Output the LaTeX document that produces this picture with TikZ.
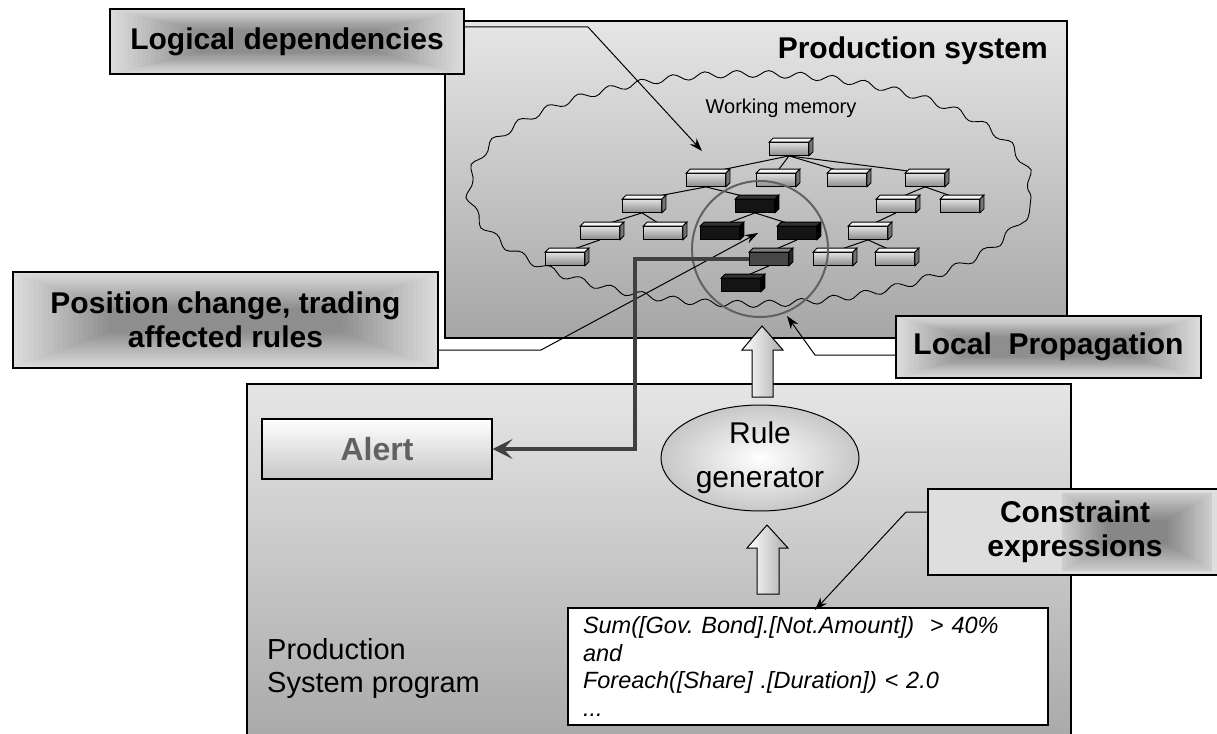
\documentclass[tikz,border=0pt]{standalone}
\usepackage{fontspec}
\setmainfont{Liberation Sans}
\usetikzlibrary{arrows.meta,decorations.pathmorphing,shapes.geometric,calc}
\frenchspacing
\tikzset{
  lbl/.style={draw=black, line width=1.2pt, font=\fontsize{30}{34}\selectfont\bfseries, align=center, inner sep=0pt},
  rgrad/.style n args={2}{path picture={
    \foreach \i in {0,...,19}{
      \pgfmathsetmacro\cc{14+\i*1.6}
      \fill[black!\cc] ($(path picture bounding box.north west)+(\i*#1,\i*#2)$) rectangle ($(path picture bounding box.south east)-(\i*#1,\i*#2)$);
    }}},
  bigbox/.style={draw=black, line width=1.2pt, inner sep=0pt},
  wm/.style={draw=black, line width=0.8pt, minimum width=39pt, minimum height=13pt, inner sep=0pt},
  wml/.style={wm, top color=black!12, bottom color=black!45},
  wmb/.style={wm, fill=black!92},
  wmd/.style={wm, fill=black!72},
  tedge/.style={draw=black, line width=1pt},
  ptr/.style={draw=black, line width=1pt, -{Stealth[length=13pt,width=9pt]}},
  alertline/.style={draw=black!75, line width=3.2pt, -{Stealth[length=20pt,width=20pt,inset=9pt]}},
  blockarrow/.style={draw=black, line width=1pt, left color=white, right color=black!32},
}
\begin{document}
\begin{tikzpicture}[x=1pt,y=-1pt]
\useasboundingbox (0,0) rectangle (1217,733);

% upper production system box
\node[bigbox, top color=black!10, bottom color=black!35, minimum width=622pt, minimum height=317pt] (ps) at (756,179.5) {};
\node[font=\fontsize{30}{34}\selectfont\bfseries, anchor=base east, inner sep=0pt] (pstitle) at (1048,59) {Production system};

% working memory cloud
\node[ellipse, draw=black, line width=0.9pt, decorate, decoration={snake, segment length=32pt, amplitude=3.5pt}, minimum width=562pt, minimum height=230pt] (cloud) at (750,197) {};
\node[font=\fontsize{20}{22}\selectfont, inner sep=0pt] (wmtext) at (781,108) {Working memory};

% tree nodes
\node[wml] (r) at (789,149) {};
\node[wml] (a1) at (706,180) {};
\node[wml] (a2) at (776,180) {};
\node[wml] (a3) at (847,180) {};
\node[wml] (a4) at (925,180) {};
\node[wml] (b1) at (642,206) {};
\node[wmb] (b2) at (755,206) {};
\node[wml] (b3) at (896,206) {};
\node[wml] (b4) at (960,206) {};
\node[wml] (c1) at (600,233) {};
\node[wml] (c2) at (663,233) {};
\node[wmb] (c3) at (720,233) {};
\node[wmb] (c4) at (797,233) {};
\node[wml] (c5) at (868,233) {};
\node[wml] (d1) at (565,259) {};
\node[wmd] (d2) at (769,259) {};
\node[wml] (d3) at (833,259) {};
\node[wml] (d4) at (895,259) {};
\node[wmb] (e1) at (741,285) {};

% tree edges
\foreach \p/\c in {r/a1,r/a2,r/a3,r/a4,a1/b1,a1/b2,b1/c1,b1/c2,c1/d1,b2/c3,b2/c4,c4/d2,d2/e1,a4/b3,a4/b4,b3/c5,c5/d3,c5/d4}
  \draw[tedge] (\p.south) -- (\c.north);

% 3D faces
\foreach \n in {r,a1,a2,a3,a4,b1,b3,b4,c1,c2,c5,d1,d3,d4}{
  \filldraw[fill=black!4, draw=black, line width=0.8pt] (\n.north west) -- ++(4,-4) -- ($(\n.north east)+(4,-4)$) -- (\n.north east) -- cycle;
  \filldraw[fill=black!55, draw=black, line width=0.8pt] (\n.north east) -- ++(4,-4) -- ($(\n.south east)+(4,-4)$) -- (\n.south east) -- cycle;
}
\foreach \n in {b2,c3,c4,e1}{
  \filldraw[fill=black!80, draw=black, line width=0.8pt] (\n.north west) -- ++(4,-4) -- ($(\n.north east)+(4,-4)$) -- (\n.north east) -- cycle;
  \filldraw[fill=black, draw=black, line width=0.8pt] (\n.north east) -- ++(4,-4) -- ($(\n.south east)+(4,-4)$) -- (\n.south east) -- cycle;
}
\filldraw[fill=black!50, draw=black, line width=0.8pt] (d2.north west) -- ++(4,-4) -- ($(d2.north east)+(4,-4)$) -- (d2.north east) -- cycle;
\filldraw[fill=black!85, draw=black, line width=0.8pt] (d2.north east) -- ++(4,-4) -- ($(d2.south east)+(4,-4)$) -- (d2.south east) -- cycle;

% local propagation circle
\node[circle, draw=black!62, line width=2pt, minimum size=136pt, inner sep=0pt] (lcircle) at (760,249) {};

% labels
\node[lbl, rgrad={4.5}{1.1}, minimum width=354pt, minimum height=65pt] (ld) at (287,41.5) {Logical dependencies};
\node[lbl, rgrad={5}{1.9}, minimum width=425pt, minimum height=96pt] (pos) at (225.5,320) {Position change, trading\\affected rules};
\node[lbl, rgrad={3.6}{1.1}, minimum width=305pt, minimum height=62pt] (lp) at (1048.5,347) {Local\ \ Propagation};

% lower production system program box
\node[bigbox, top color=black!10, bottom color=black!34, minimum width=824pt, minimum height=360pt] (psp) at (659,564) {};
\node[font=\fontsize{29}{33}\selectfont, align=left, anchor=north west, inner sep=0pt] (psptext) at (267,638) {Production\\System program};

\node[lbl, minimum width=294pt, minimum height=86pt, path picture={
    \fill[black!13] (path picture bounding box.north west) rectangle (path picture bounding box.south east);
    \foreach \i in {0,...,17}{
      \pgfmathsetmacro\cc{20+\i*1.6}
      \fill[black!\cc] ($(path picture bounding box.north west)+(134+\i*2.6,4+\i*1.6)$) rectangle ($(path picture bounding box.south east)-(10+\i*2.6,4+\i*1.6)$);
    }}] (ce) at (1075,532) {Constraint\\expressions};

\node[draw=black, line width=1.2pt, top color=white, bottom color=black!22, minimum width=230pt, minimum height=60pt, font=\fontsize{32}{34}\selectfont\bfseries, text=black!62, inner sep=0pt] (alert) at (377,449) {Alert};

\node[ellipse, draw=black, line width=1pt, inner color=white, outer color=black!22, minimum width=198pt, minimum height=106pt, align=center, font=\fontsize{30}{44}\selectfont, inner sep=0pt] (rg) at (760,458) {Rule\\generator};

\node[draw=black, fill=white, line width=1.2pt, minimum width=480pt, minimum height=117pt, text width=450pt, inner xsep=15pt, inner ysep=0pt, align=left, font=\fontsize{23.5}{27.7}\selectfont\itshape] (ex) at (808,666.5) {Sum([Gov. Bond].[Not.Amount])\ \ > 40\%\\and\\Foreach([Share] .[Duration]) < 2.0\\...};

% block arrows
\path[blockarrow] (762,326) -- (783,350) -- (773,350) -- (773,397) -- (752,397) -- (752,350) -- (742,350) -- cycle;
\path[blockarrow] (767,525) -- (788,548) -- (779,548) -- (779,594) -- (757,594) -- (757,548) -- (747,548) -- cycle;

% connectors
\coordinate (ldbend) at (588,27);
\coordinate (ldtip) at (702,151);
\draw[ptr] (ld.east |- ldbend) -- (ldbend) -- (ldtip);

\coordinate (posbend) at (541,350);
\coordinate (postip) at (758,233);
\draw[ptr] (pos.east |- posbend) -- (posbend) -- (postip);

\coordinate (lpbend) at (815,355);
\coordinate (lptip) at (787,316);
\draw[ptr] (lp.west |- lpbend) -- (lpbend) -- (lptip);

\coordinate (cebend) at (906,512);
\coordinate (cetip) at (815,610);
\draw[ptr] (ce.west |- cebend) -- (cebend) -- (cetip);

\coordinate (albend) at (635,259);
\draw[alertline] (d2.west) -- (albend) -- (albend |- alert.east) -- (alert.east);
\end{tikzpicture}
\end{document}
